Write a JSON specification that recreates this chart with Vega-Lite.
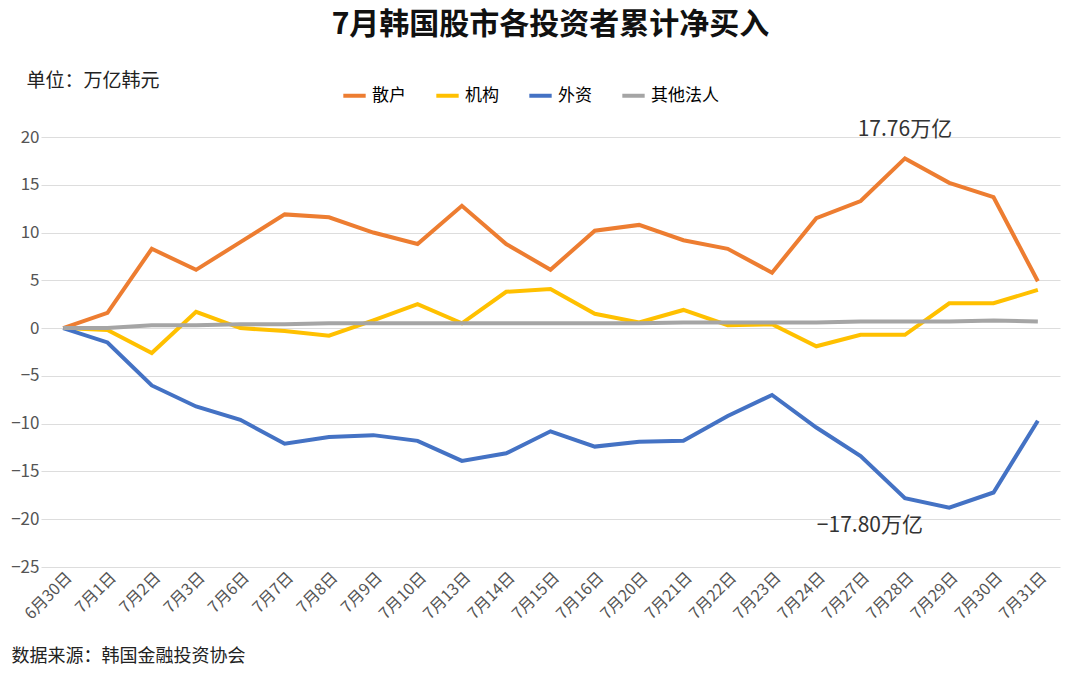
{
  "$schema": "https://vega.github.io/schema/vega-lite/v6.json",
  "width": 1080,
  "height": 673,
  "autosize": {"type": "fit", "contains": "padding"},
  "background": "white",
  "padding": {"left": 10, "right": 20, "top": 10, "bottom": 8},
  "title": {"text": "7月韩国股市各投资者累计净买入", "fontSize": 30, "font": "Noto Sans CJK SC", "fontWeight": "bold", "color": "#111", "offset": 31},
  "data": {
    "values": [
      {"d": "6月30日", "散户": 0, "机构": 0, "外资": 0, "其他法人": 0},
      {"d": "7月1日", "散户": 1.6, "机构": -0.2, "外资": -1.5, "其他法人": 0},
      {"d": "7月2日", "散户": 8.3, "机构": -2.6, "外资": -6.0, "其他法人": 0.3},
      {"d": "7月3日", "散户": 6.1, "机构": 1.7, "外资": -8.2, "其他法人": 0.3},
      {"d": "7月6日", "散户": 9.0, "机构": 0.0, "外资": -9.6, "其他法人": 0.4},
      {"d": "7月7日", "散户": 11.9, "机构": -0.3, "外资": -12.1, "其他法人": 0.4},
      {"d": "7月8日", "散户": 11.6, "机构": -0.8, "外资": -11.4, "其他法人": 0.5},
      {"d": "7月9日", "散户": 10.0, "机构": 0.8, "外资": -11.2, "其他法人": 0.5},
      {"d": "7月10日", "散户": 8.8, "机构": 2.5, "外资": -11.8, "其他法人": 0.5},
      {"d": "7月13日", "散户": 12.8, "机构": 0.5, "外资": -13.9, "其他法人": 0.5},
      {"d": "7月14日", "散户": 8.8, "机构": 3.8, "外资": -13.1, "其他法人": 0.5},
      {"d": "7月15日", "散户": 6.1, "机构": 4.1, "外资": -10.8, "其他法人": 0.5},
      {"d": "7月16日", "散户": 10.2, "机构": 1.5, "外资": -12.4, "其他法人": 0.5},
      {"d": "7月20日", "散户": 10.8, "机构": 0.6, "外资": -11.9, "其他法人": 0.5},
      {"d": "7月21日", "散户": 9.2, "机构": 1.9, "外资": -11.8, "其他法人": 0.6},
      {"d": "7月22日", "散户": 8.3, "机构": 0.3, "外资": -9.2, "其他法人": 0.6},
      {"d": "7月23日", "散户": 5.8, "机构": 0.4, "外资": -7.0, "其他法人": 0.6},
      {"d": "7月24日", "散户": 11.5, "机构": -1.9, "外资": -10.4, "其他法人": 0.6},
      {"d": "7月27日", "散户": 13.3, "机构": -0.7, "外资": -13.4, "其他法人": 0.7},
      {"d": "7月28日", "散户": 17.76, "机构": -0.7, "外资": -17.8, "其他法人": 0.7},
      {"d": "7月29日", "散户": 15.2, "机构": 2.6, "外资": -18.8, "其他法人": 0.7},
      {"d": "7月30日", "散户": 13.7, "机构": 2.6, "外资": -17.2, "其他法人": 0.8},
      {"d": "7月31日", "散户": 4.9, "机构": 4.0, "外资": -9.7, "其他法人": 0.7}
    ]
  },
  "transform": [{"fold": ["散户", "机构", "外资", "其他法人"], "as": ["series", "value"]}],
  "encoding": {
    "x": {
      "field": "d", "type": "ordinal", "sort": null,
      "scale": {"paddingOuter": 0.25, "paddingInner": 0},
      "axis": {"labelAngle": -45, "labelFontSize": 16, "labelColor": "#555", "domain": false, "ticks": false,
        "title": "数据来源：韩国金融投资协会", "titleAnchor": "start", "titleAlign": "left", "titleX": -30, "titleY": 80, "titleFontSize": 18, "titleFontWeight": "normal", "titleColor": "#222"}
    },
    "y": {
      "field": "value", "type": "quantitative",
      "scale": {"domain": [-25, 20], "nice": false},
      "axis": {"values": [-25, -20, -15, -10, -5, 0, 5, 10, 15, 20], "labelFontSize": 17, "labelColor": "#555", "domain": false, "ticks": false, "gridColor": "#ddd",
        "title": "单位：万亿韩元", "titleAngle": 0, "titleAlign": "left", "titleBaseline": "middle", "titleX": -15, "titleY": -57, "titleFontSize": 19, "titleFontWeight": "normal", "titleColor": "#222"}
    }
  },
  "layer": [
    {
      "mark": {"type": "line", "strokeWidth": 4},
      "encoding": {
        "color": {"field": "series", "type": "nominal",
          "scale": {"domain": ["散户", "机构", "外资", "其他法人"], "range": ["#ED7D31", "#FFC000", "#4472C4", "#A5A5A5"]},
          "legend": {"orient": "none", "legendX": 300, "legendY": -55, "direction": "horizontal", "title": null, "labelFontSize": 17, "symbolType": "stroke", "symbolStrokeWidth": 4, "symbolSize": 500, "columnPadding": 22}
        }
      }
    },
    {
      "transform": [{"filter": "datum.d === '7月28日' && datum.series === '散户'"}],
      "mark": {"type": "text", "dy": -28, "fontSize": 21, "color": "#333"},
      "encoding": {"text": {"value": "17.76万亿"}}
    },
    {
      "transform": [{"filter": "datum.d === '7月28日' && datum.series === '外资'"}],
      "mark": {"type": "text", "dy": 28, "dx": -35, "fontSize": 21, "color": "#333"},
      "encoding": {"text": {"value": "−17.80万亿"}}
    }
  ],
  "config": {"font": "Noto Sans CJK SC", "view": {"stroke": null}}
}
